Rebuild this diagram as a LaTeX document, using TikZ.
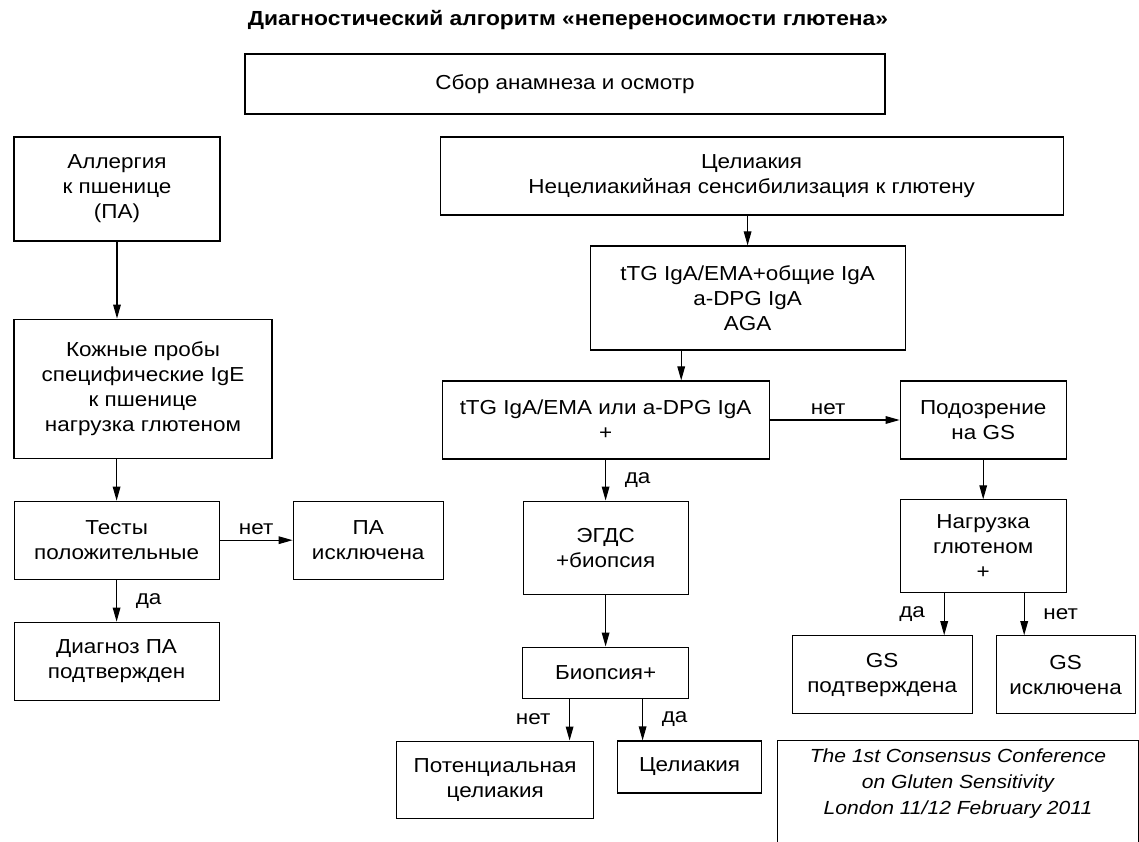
\documentclass[tikz,border=0pt]{standalone}
\usepackage{fontspec}
\setmainfont{Liberation Sans}[FakeStretch=1.11]
\usepackage{graphicx}
\usepackage{tikz}
\usetikzlibrary{arrows.meta}
\newcommand{\boxfont}{\fontsize{14.4}{17.8}\selectfont}

\begin{document}
\begin{tikzpicture}[node distance=3cm, auto]
    \tikzstyle{block} = [rectangle, draw, line width=0.8pt, align=center, inner sep=0pt, font=\boxfont]
    \tikzstyle{arrow} = [line width=0.8pt, -{Triangle[length=3.5mm, width=1.9mm]}]
    \tikzstyle{lbl} = [font=\boxfont]

    \useasboundingbox (0,0) rectangle (28.475,-21.05);

    \node [font=\bfseries\fontsize{14.5}{16}\selectfont] (title) at (14.2,-0.5) {\resizebox{16cm}{\height}{Диагностический алгоритм «непереносимости глютена»}};
    \node [block, minimum width=16cm, minimum height=1.5cm] (anam) at (14.125,-2.1) {Сбор анамнеза и осмотр};

    \node [block, minimum width=5.15cm, minimum height=2.6cm] (allergy) at (2.925,-4.725) {Аллергия\\к пшенице\\(ПА)};
    \node [block, below of=allergy, node distance=4.99cm, xshift=0.65cm, minimum width=6.45cm, minimum height=3.475cm] (skin) {Кожные пробы\\специфические IgE\\к пшенице\\нагрузка глютеном};
    \node [block, below of=skin, node distance=3.79cm, xshift=-0.66cm, minimum width=5.125cm, minimum height=1.95cm] (tests) {Тесты\\положительные};
    \node [block, right of=tests, node distance=6.29cm, minimum width=3.75cm, minimum height=1.95cm] (paexcl) {ПА\\исключена};
    \node [block, below of=tests, node distance=3.025cm, minimum width=5.125cm, minimum height=1.95cm] (padiag) {Диагноз ПА\\подтвержден};

    \node [block, minimum width=15.575cm, minimum height=1.95cm] (celiac) at (18.79,-4.4) {Целиакия\\Нецелиакийная сенсибилизация к глютену};
    \node [block, below of=celiac, node distance=3.05cm, xshift=-0.1cm, minimum width=7.875cm, minimum height=2.6cm] (sero) {tTG IgA/EMA+общие IgA\\a-DPG IgA\\AGA};
    \node [block, below of=sero, node distance=3.05cm, xshift=-3.55cm, minimum width=8.175cm, minimum height=1.95cm] (seropos) {tTG IgA/EMA или a-DPG IgA\\+};
    \node [block, right of=seropos, node distance=9.44cm, minimum width=4.15cm, minimum height=1.95cm] (gssusp) {Подозрение\\на GS};
    \node [block, below of=seropos, node distance=3.19cm, minimum width=4.125cm, minimum height=2.325cm] (egds) {ЭГДС\\+биопсия};
    \node [block, below of=egds, node distance=3.125cm, minimum width=4.15cm, minimum height=1.275cm] (biopsy) {Биопсия+};
    \node [block, below of=biopsy, node distance=2.675cm, xshift=-2.76cm, minimum width=4.925cm, minimum height=1.925cm] (potential) {Потенциальная\\целиакия};
    \node [block, below of=biopsy, node distance=2.36cm, xshift=2.1cm, minimum width=3.6cm, minimum height=1.3cm] (celres) {Целиакия};
    \node [block, below of=gssusp, node distance=3.16cm, minimum width=4.15cm, minimum height=2.325cm] (glload) {Нагрузка\\глютеном\\+};
    \node [block, below of=glload, node distance=3.21cm, xshift=-2.525cm, minimum width=4.5cm, minimum height=1.95cm] (gsyes) {GS\\подтверждена};
    \node [block, below of=glload, node distance=3.21cm, xshift=2.06cm, minimum width=3.475cm, minimum height=1.95cm] (gsno) {GS\\исключена};

    \node [font=\fontsize{13.5}{18.5}\selectfont\itshape, align=center, inner sep=0pt, minimum width=9cm, minimum height=2.15cm] (conf) at (23.95,-19.6) {The 1st Consensus Conference\\on Gluten Sensitivity\\London 11/12 February 2011};
    \draw [line width=0.8pt] ([yshift=-0.5cm]conf.south west) -- (conf.north west) -- (conf.north east) -- ([yshift=-0.5cm]conf.south east);

    \draw [arrow] (allergy) -- (allergy |- skin.north);
    \draw [arrow] (tests |- skin.south) -- (tests);
    \draw [arrow] (tests) -- node [lbl, above] {нет} (paexcl);
    \draw [arrow] (tests) -- node [lbl, right=0.35cm] {да} (padiag);

    \draw [arrow] (sero |- celiac.south) -- (sero);
    \draw [arrow] ([xshift=-1.66cm]sero.south) -- ([xshift=-1.66cm]sero.south |- seropos.north);
    \draw [arrow] (seropos) -- node [lbl, above, pos=0.45] {нет} (gssusp);
    \draw [arrow] (seropos) -- node [lbl, right=0.35cm] {да} (egds);
    \draw [arrow] (egds) -- (biopsy);
    \draw [arrow] ([xshift=-0.9cm]biopsy.south) -- node [lbl, left=0.35cm] {нет} ([xshift=-0.9cm]biopsy.south |- potential.north);
    \draw [arrow] ([xshift=0.925cm]biopsy.south) -- node [lbl, right=0.35cm] {да} ([xshift=0.925cm]biopsy.south |- celres.north);

    \draw [arrow] (gssusp) -- (glload);
    \draw [arrow] ([xshift=-0.975cm]glload.south) -- node [lbl, left=0.35cm] {да} ([xshift=-0.975cm]glload.south |- gsyes.north);
    \draw [arrow] ([xshift=1.025cm]glload.south) -- node [lbl, right=0.35cm] {нет} ([xshift=1.025cm]glload.south |- gsno.north);
\end{tikzpicture}
\end{document}
